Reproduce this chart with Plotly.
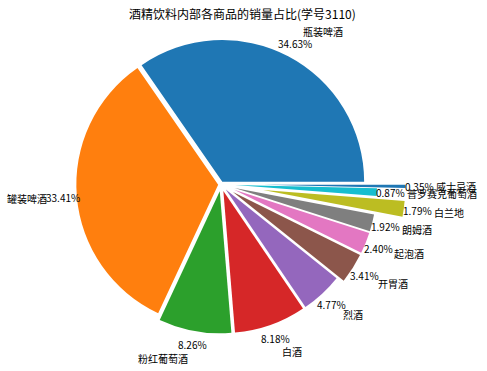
import math
import plotly.graph_objects as go

labels = ["瓶装啤酒", "罐装啤酒", "粉红葡萄酒", "白酒", "烈酒", "开胃酒",
          "起泡酒", "朗姆酒", "白兰地", "普罗赛克葡萄酒", "威士忌酒"]
values = [34.63, 33.41, 8.26, 8.18, 4.77, 3.41, 2.40, 1.92, 1.79, 0.87, 0.35]
explode = [0.02, 0.02, 0.05, 0.05, 0.05, 0.1, 0.1, 0.1, 0.3, 0.1, 0.3]
tab10 = ["#1f77b4", "#ff7f0e", "#2ca02c", "#d62728", "#9467bd",
         "#8c564b", "#e377c2", "#7f7f7f", "#bcbd22", "#17becf"]
colors = [tab10[i % 10] for i in range(len(values))]
title = "酒精饮料内部各商品的销量占比(学号3110)"

W, H = 487, 371
dom_x = [0.0728, 0.8348]
dom_y = [0.006, 1.0]
maxpull = max(explode)
r = min(W * (dom_x[1] - dom_x[0]), H * (dom_y[1] - dom_y[0])) / (2 * (1 + maxpull))
cx = W * (dom_x[0] + dom_x[1]) / 2
cy = H * (1 - dom_y[0]) - H * (dom_y[1] - dom_y[0]) / 2

FONT = "Noto Sans CJK SC"
total = sum(values)
# plotly's counterclockwise pies place the first slice clockwise of `rotation`,
# so shift by the first slice's angle to start it at 3 o'clock going up
rotation = 90 - 360 * values[0] / total

fig = go.Figure(go.Pie(
    labels=labels, values=values, sort=False, direction="counterclockwise",
    rotation=rotation, pull=explode,
    marker=dict(colors=colors, line=dict(color="white", width=0)),
    textinfo="none", showlegend=False, domain=dict(x=dom_x, y=dom_y),
))

annotations = []
cum = 0.0
for lab, v, e in zip(labels, values, explode):
    mid = math.radians(360 * (cum + v / 2) / total)
    cum += v
    c, s = math.cos(mid), math.sin(mid)
    lx = cx + (e + 1.2) * r * c
    ly = cy - (e + 1.2) * r * s
    px = cx + (e + 1.1) * r * c
    py = cy - (e + 1.1) * r * s
    annotations.append(dict(
        x=lx / W, y=1 - ly / H, xref="paper", yref="paper", text=lab,
        showarrow=False, xanchor="left" if c > 0 else "right", yanchor="middle",
        font=dict(family=FONT, size=10, color="black")))
    annotations.append(dict(
        x=px / W, y=1 - py / H, xref="paper", yref="paper",
        text=f"{v / total * 100:.2f}%",
        showarrow=False, xanchor="center", yanchor="middle",
        font=dict(family=FONT, size=10, color="black")))

annotations.append(dict(
    x=242 / W, y=1 - 13 / H, xref="paper", yref="paper", text=title,
    showarrow=False, xanchor="center", yanchor="middle",
    font=dict(family=FONT, size=12, color="black")))

fig.update_layout(
    width=W, height=H, margin=dict(l=0, r=0, t=0, b=0),
    paper_bgcolor="white", plot_bgcolor="white",
    annotations=annotations,
)
fig.write_html("out.html")
